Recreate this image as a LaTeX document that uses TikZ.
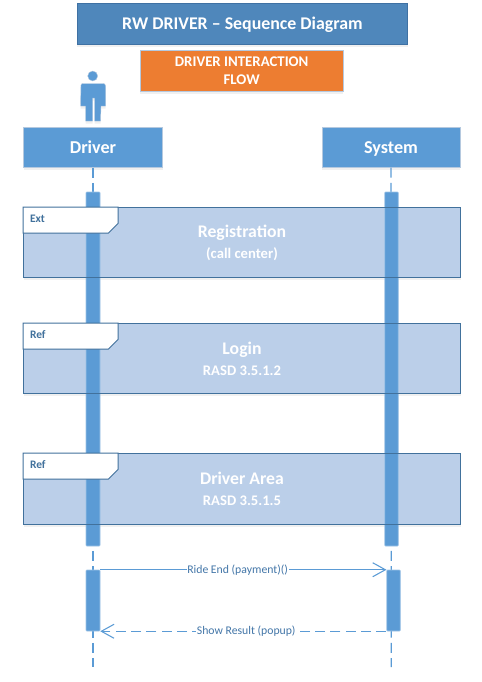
\documentclass[tikz,border=0pt]{standalone}
\usepackage{fontspec}
\setmainfont{Carlito}
\usetikzlibrary{arrows.meta,shadows,positioning}
\definecolor{titleblue}{HTML}{4F87BB}
\definecolor{titleline}{HTML}{3F71A3}
\definecolor{orangefill}{HTML}{ED7D31}
\definecolor{paleline}{HTML}{B5C9DF}
\definecolor{actorblue}{HTML}{5B9BD5}
\definecolor{framefill}{HTML}{BBCFE9}
\definecolor{frameline}{HTML}{41719C}
\definecolor{labelblue}{HTML}{4376A8}
\tikzset{
  softshadow/.style={drop shadow={opacity=.12,shadow xshift=0pt,shadow yshift=-2pt}},
  box/.style={rectangle,inner sep=0pt,text=white,font=\bfseries,align=center},
  titlebox/.style={box,fill=titleblue,draw=titleline,line width=.75pt,softshadow},
  flowbox/.style={box,fill=orangefill,draw=paleline,line width=.75pt,softshadow},
  lifehead/.style={box,fill=actorblue,draw=paleline,line width=.75pt,softshadow,text height=12pt,text depth=2.8pt},
  lifeline/.style={draw=actorblue,line width=.9pt,dash pattern=on 7.5pt off 4pt},
  activation/.style={rectangle,inner sep=0pt,fill=actorblue,draw=actorblue!60!white,line width=.4pt,rounded corners=.5pt},
  framebox/.style={box,fill=framefill,softshadow},
  frameborder/.style={draw=frameline,line width=.75pt},
  tab/.style={fill=white,draw=frameline,line width=.75pt},
  tablabel/.style={text=frameline,font=\bfseries\fontsize{8.6}{10}\selectfont,inner sep=0pt},
  msg/.style={draw=actorblue,line width=.8pt,-{Straight Barb[length=9.5pt,width=10.5pt,line width=.8pt]}},
  msglabel/.style={fill=white,text=labelblue,font=\fontsize{8.8}{10}\selectfont,inner sep=.5pt}
}
\newcommand{\framehead}[1]{{\fontsize{13.3}{16.5}\selectfont #1}}
\newcommand{\framesub}[1]{{\fontsize{11}{16.5}\selectfont #1}}
\begin{document}
\begin{tikzpicture}[x=.75pt,y=-.75pt]
\useasboundingbox (0,0) rectangle (482,682);
% header boxes
\node[titlebox,minimum width=330.5*.75pt,minimum height=41*.75pt,font=\bfseries\fontsize{13.4}{14}\selectfont,text height=10.5pt,text depth=2.4pt] (title) at (242.5,24) {RW DRIVER – Sequence Diagram};
\node[flowbox,minimum width=203*.75pt,minimum height=41*.75pt,font=\bfseries\fontsize{11.1}{13.5}\selectfont] (flow) at (241.7,71) {DRIVER INTERACTION\\FLOW};
% actor
\fill[actorblue,draw=paleline,line width=.3pt,softshadow] (81,85) .. controls (81,84) and (82,83.5) .. (83,83.5) -- (103,83.5) .. controls (104,83.5) and (105.5,84) .. (105.5,85.5) -- (105.5,106) -- (101,106) -- (100.5,121) -- (94.5,121) -- (94.5,98) -- (92.5,98) -- (92.5,121) -- (85.5,121) -- (85.5,106) -- (80.5,106) -- cycle;
\fill[actorblue,draw=paleline,line width=.3pt] (92.7,76) circle (5);
% lifeline heads
\node[lifehead,minimum width=139*.75pt,minimum height=40*.75pt,font=\bfseries\fontsize{13.6}{14}\selectfont] (driver) at (93,147) {Driver};
\node[lifehead,minimum width=138*.75pt,minimum height=40*.75pt,font=\bfseries\fontsize{13.6}{14}\selectfont] (system) at (391,147) {System};
% lifeline ends
\coordinate (driverend) at (93,667);
\coordinate (systemend) at (391.3,667);
\draw[lifeline] (driver.south) -- (driverend);
\draw[lifeline] (system.south) -- (systemend);
% frames (fill)
\node[framebox,minimum width=437*.75pt,minimum height=70*.75pt] (reg) at (242,242.5) {};
\node[framebox,minimum width=437*.75pt,minimum height=70*.75pt] (login) at (242,358.5) {};
\node[framebox,minimum width=437*.75pt,minimum height=71*.75pt] (area) at (242,489) {};
% activations
\node[activation,minimum width=14*.75pt,minimum height=354*.75pt] (act1) at (93,369) {};
\node[activation,minimum width=13.5*.75pt,minimum height=354*.75pt] (act2) at (391.5,369) {};
\node[activation,minimum width=14*.75pt,minimum height=61*.75pt] (act3) at (93,600.5) {};
\node[activation,minimum width=13.5*.75pt,minimum height=61*.75pt] (act4) at (393.5,600.5) {};
% frame borders and tabs
\foreach \f/\lab in {reg/Ext,login/Ref,area/Ref}{
  \draw[frameborder] (\f.north west) rectangle (\f.south east);
  \draw[tab] (\f.north west) -- ++(95,0) -- ++(0,16) -- ++(-10,10) -- ++(-85,0) -- cycle;
  \node[tablabel,anchor=west] at ([xshift=6.5*.75pt,yshift=-11.5*.75pt]\f.north west) {\lab};
}
% frame texts
\node[box] (regtext) at (reg.center) {\framehead{Registration}\\[3.8pt]\framesub{(call center)}};
\node[box] (logintext) at (login.center) {\framehead{Login}\\[3.8pt]\framesub{RASD 3.5.1.2}};
\node[box] (areatext) at (area.center) {\framehead{Driver Area}\\[3.8pt]\framesub{RASD 3.5.1.5}};
% messages
\draw[msg] (act3.north east) -- node[msglabel,pos=.48] {Ride End (payment)()} (act4.north west);
\draw[msg,dash pattern=on 7.5pt off 4pt] (act4.south west) -- node[msglabel,pos=.49] {Show Result (popup)} (act3.south east);
\end{tikzpicture}
\end{document}
